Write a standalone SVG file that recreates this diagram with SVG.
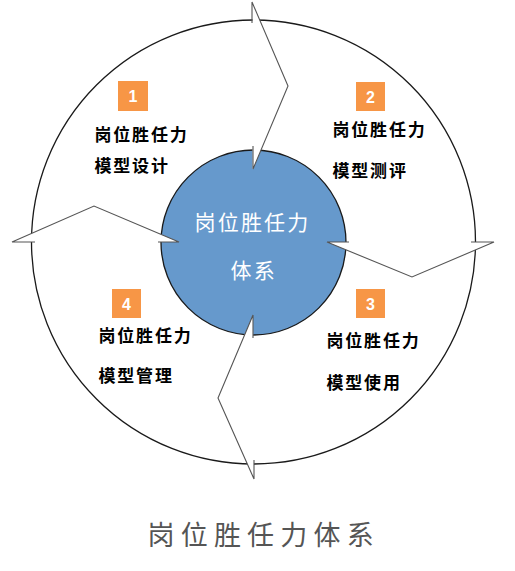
<svg xmlns="http://www.w3.org/2000/svg" width="515" height="571" viewBox="0 0 515 571">
<style>
.ring{fill:#ffffff;stroke:#1a1a1a;stroke-width:1.3}
.core{fill:#6699CC;stroke:#1a1a1a;stroke-width:1.3}
.mask{fill:#ffffff;stroke:none}
.zig{fill:none;stroke:#555555;stroke-width:1.1;stroke-linejoin:miter}
.box{fill:#F79646}
.num{font-family:"Liberation Sans",Arial,sans-serif;font-weight:bold;font-size:16px;fill:#ffffff;text-anchor:middle}
.lbl{font-family:"Noto Sans CJK SC","Noto Sans",sans-serif;font-weight:bold;font-size:17px;letter-spacing:1.8px;fill:#000000}
.ctr{font-family:"Noto Sans CJK SC","Noto Sans",sans-serif;font-size:21px;letter-spacing:2.2px;fill:#ffffff}
.ttl{font-family:"Noto Sans CJK SC","Noto Sans",sans-serif;font-size:27px;letter-spacing:6.2px;fill:#555555}
</style>
<rect width="515" height="571" fill="#ffffff"/>
<g id="outer-circle"><circle class="ring" cx="253.5" cy="242" r="222"/></g>
<g id="center">
<circle class="core" cx="253.5" cy="242.5" r="92.5"/>
</g>
<g id="connectors">
<g id="arrow-top">
<polygon class="mask" points="252,2 288,86 253,169 252.5,169 252.5,2"/>
<polyline class="zig" points="252,23 252,2 288,86 253,169 253,146"/>
</g>
<g id="arrow-right">
<polygon class="mask" points="327,242 412,277 494,242"/>
<polyline class="zig" points="349,242 327,242 412,277 494,242 471,242"/>
</g>
<g id="arrow-bottom">
<polygon class="mask" points="253,315 218,398 254,479"/>
<polyline class="zig" points="253,338 253,315 218,398 254,479 254,460"/>
</g>
<g id="arrow-left">
<polygon class="mask" points="12,242 94,206 179,242"/>
<polyline class="zig" points="35,242 12,242 94,206 179,242 158,242"/>
</g>
</g>
<g id="center-text">
<text class="ctr" x="194.5" y="230">岗位胜任力</text>
<text class="ctr" x="230.5" y="278">体系</text>
</g>
<g id="node-1">
<rect class="box" x="118" y="81" width="30" height="30"/>
<text class="num" x="133" y="102">1</text>
<text class="lbl" x="94.5" y="141">岗位胜任力</text>
<text class="lbl" x="94.5" y="172">模型设计</text>
</g>
<g id="node-2">
<rect class="box" x="356" y="82" width="29" height="29"/>
<text class="num" x="370.5" y="102.5">2</text>
<text class="lbl" x="332.5" y="136">岗位胜任力</text>
<text class="lbl" x="332.5" y="177">模型测评</text>
</g>
<g id="node-3">
<rect class="box" x="356" y="289" width="29" height="29"/>
<text class="num" x="370.5" y="309.5">3</text>
<text class="lbl" x="326.5" y="347">岗位胜任力</text>
<text class="lbl" x="326.5" y="389">模型使用</text>
</g>
<g id="node-4">
<rect class="box" x="112" y="289" width="29" height="29"/>
<text class="num" x="126.5" y="309.5">4</text>
<text class="lbl" x="98.5" y="342">岗位胜任力</text>
<text class="lbl" x="98.5" y="382">模型管理</text>
</g>
<g id="title">
<text class="ttl" x="147.5" y="545">岗位胜任力体系</text>
</g>
</svg>
